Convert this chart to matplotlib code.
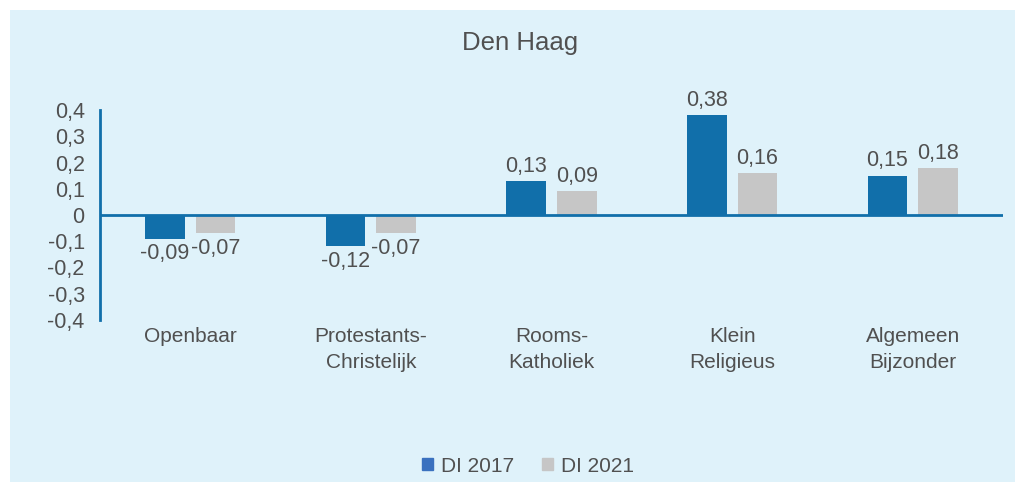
import numpy as np
import matplotlib.pyplot as plt
from matplotlib.patches import Rectangle, Patch

plt.rcParams['font.family'] = ['Liberation Sans', 'DejaVu Sans']

categories = ['Openbaar', 'Protestants-\nChristelijk', 'Rooms-\nKatholiek', 'Klein\nReligieus', 'Algemeen\nBijzonder']
di_2017 = [-0.09, -0.12, 0.13, 0.38, 0.15]
di_2021 = [-0.07, -0.07, 0.09, 0.16, 0.18]
yticks = [-0.4, -0.3, -0.2, -0.1, 0, 0.1, 0.2, 0.3, 0.4]

blue = '#116faa'
grey = '#c6c6c6'
txt = '#505050'
bg = '#dff2fa'

fig = plt.figure(figsize=(10.19, 4.86), dpi=100)
fig.patch.set_facecolor('white')
fig.patches.append(Rectangle((10/1019, 4/486), 1005/1019, 472/486, transform=fig.transFigure,
                             facecolor=bg, edgecolor='none', zorder=-1))

ax = fig.add_axes([100/1019, 1 - 320/486, 903/1019, 210/486])
ax.set_facecolor('none')

x = np.arange(len(categories))
w = 0.22
b1 = ax.bar(x - 0.14, di_2017, w, color=blue, label='DI 2017')
b2 = ax.bar(x + 0.14, di_2021, w, color=grey, label='DI 2021')

def fmt(v):
    return f'{v:.2f}'.replace('.', ',')

for bars, vals in ((b1, di_2017), (b2, di_2021)):
    for r, v in zip(bars, vals):
        cx = r.get_x() + r.get_width() / 2
        if v >= 0:
            ax.annotate(fmt(v), (cx, v), xytext=(0, 3), textcoords='offset points',
                        ha='center', va='bottom', fontsize=15.5, color=txt)
        else:
            ax.annotate(fmt(v), (cx, v), xytext=(0, -3), textcoords='offset points',
                        ha='center', va='top', fontsize=15.5, color=txt)

ax.set_xlim(-0.5, len(categories) - 0.5)
ax.set_ylim(-0.4, 0.4)
ax.set_yticks(yticks)
ax.set_yticklabels([('0' if t == 0 else f'{t:.1f}'.replace('.', ',')) for t in yticks],
                   fontsize=15.5, color=txt)
ax.set_xticks(x)
ax.set_xticklabels(categories, fontsize=15, color=txt, linespacing=1.5)
ax.tick_params(axis='both', length=0)
ax.tick_params(axis='y', pad=11)
ax.tick_params(axis='x', pad=5)

for s in ['top', 'right', 'bottom']:
    ax.spines[s].set_visible(False)
ax.spines['left'].set_color(blue)
ax.spines['left'].set_linewidth(2)
ax.axhline(0, color=blue, lw=2, zorder=3)

fig.text(520/1019, 1 - 43/486, 'Den Haag', ha='center', va='center', fontsize=18.5, color=txt)
handles = [Patch(color='#3a71bf', label='DI 2017'), Patch(color=grey, label='DI 2021')]
fig.legend(handles=handles, loc='center', bbox_to_anchor=(528/1019, 1 - 466/486), ncol=2,
           frameon=False, fontsize=15, handlelength=0.55, handleheight=0.55,
           handletextpad=0.4, columnspacing=1.3, labelcolor=txt)

fig.savefig('out.png', dpi=100)
